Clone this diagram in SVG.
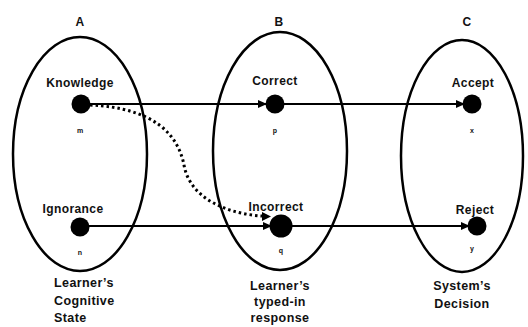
<svg xmlns="http://www.w3.org/2000/svg" width="528" height="327" viewBox="0 0 528 327">
<style>
.set{fill:none;stroke:#000;stroke-width:2.5}
.t{font-family:"Liberation Sans",Arial,sans-serif;font-weight:bold;font-size:12px;fill:#111;text-anchor:middle;letter-spacing:0.4px}
.s{font-family:"Liberation Sans",Arial,sans-serif;font-weight:bold;font-size:7px;fill:#111;text-anchor:middle}
.b{font-family:"Liberation Sans",Arial,sans-serif;font-weight:bold;font-size:12.5px;fill:#111;letter-spacing:0.4px}
.dot{fill:#000}
.ln{fill:none;stroke:#000;stroke-width:2}
.dl{fill:none;stroke:#000;stroke-width:3;stroke-dasharray:2.5 3}
</style>
<defs>
<marker id="ah" markerWidth="9" markerHeight="8" refX="8" refY="4" orient="auto" markerUnits="userSpaceOnUse">
<path d="M0,0 L9,4 L0,8 Z" fill="#000"/>
</marker>
</defs>
<g id="setA">
<ellipse class="set" cx="80" cy="154" rx="67" ry="117"/>
<text class="t" x="80" y="26">A</text>
<text class="b" x="54" y="287">Learner’s</text>
<text class="b" x="54" y="305">Cognitive</text>
<text class="b" x="54" y="322">State</text>
</g>
<g id="setB">
<ellipse class="set" cx="280" cy="151" rx="67" ry="119"/>
<text class="t" x="279" y="26">B</text>
<text class="b" x="280" y="290" text-anchor="middle">Learner’s</text>
<text class="b" x="280" y="306" text-anchor="middle">typed-in</text>
<text class="b" x="280" y="322" text-anchor="middle">response</text>
</g>
<g id="setC">
<ellipse class="set" cx="462" cy="156" rx="61" ry="116"/>
<text class="t" x="467" y="26">C</text>
<text class="b" x="462" y="290" text-anchor="middle">System’s</text>
<text class="b" x="462" y="308" text-anchor="middle">Decision</text>
</g>
<g id="connectors">
<line class="ln" x1="88" y1="104" x2="266" y2="104" marker-end="url(#ah)"/>
<line class="ln" x1="283" y1="104" x2="464" y2="104" marker-end="url(#ah)"/>
<line class="ln" x1="88" y1="226" x2="271" y2="226" marker-end="url(#ah)"/>
<line class="ln" x1="292" y1="226" x2="469" y2="226" marker-end="url(#ah)"/>
<path class="dl" d="M90,105 C155,108 178,135 184,165 C190,200 230,214 262,216"/>
<path d="M262,212 L271,216.5 L262,221 Z" fill="#000"/>
</g>
<g id="knowledge">
<circle class="dot" cx="81" cy="104" r="9.5"/>
<text class="t" x="80" y="87">Knowledge</text>
<text class="s" x="80" y="133">m</text>
</g>
<g id="ignorance">
<circle class="dot" cx="80" cy="227" r="9.5"/>
<text class="t" x="73" y="213">Ignorance</text>
<text class="s" x="80" y="255">n</text>
</g>
<g id="correct">
<circle class="dot" cx="275" cy="104" r="9.5"/>
<text class="t" x="275" y="85">Correct</text>
<text class="s" x="275" y="133">p</text>
</g>
<g id="incorrect">
<circle class="dot" cx="281" cy="226" r="11.5"/>
<text class="t" x="276" y="211">Incorrect</text>
<text class="s" x="281" y="253">q</text>
</g>
<g id="accept">
<circle class="dot" cx="472" cy="104" r="9.5"/>
<text class="t" x="473" y="87">Accept</text>
<text class="s" x="472" y="133">x</text>
</g>
<g id="reject">
<circle class="dot" cx="477" cy="226" r="9.5"/>
<text class="t" x="475" y="214">Reject</text>
<text class="s" x="472" y="251">y</text>
</g>
</svg>
